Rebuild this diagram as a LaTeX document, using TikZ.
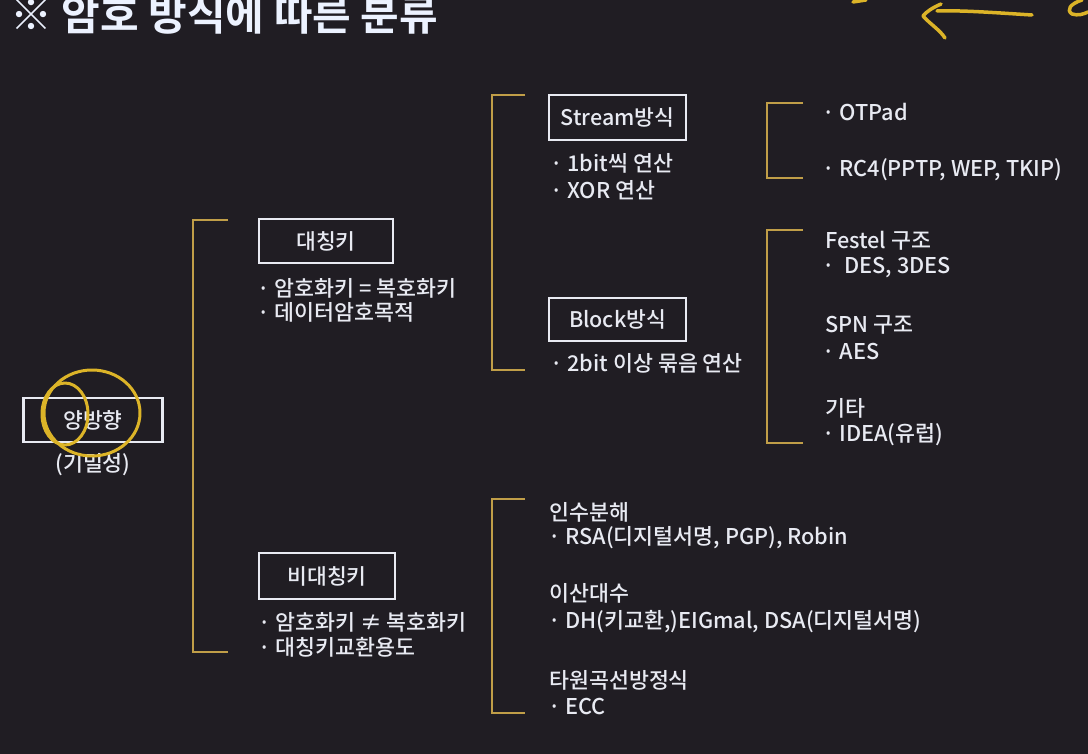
\documentclass[tikz,border=0pt]{standalone}
\usepackage{fontspec}
\setmainfont{Noto Sans CJK KR}[UprightFont={* Medium},BoldFont={* Bold}]
\definecolor{bg}{RGB}{32,29,35}
\definecolor{gold}{RGB}{192,158,72}
\definecolor{fg}{RGB}{232,234,242}
\definecolor{hand}{RGB}{220,180,40}
\definecolor{titlefg}{RGB}{236,242,255}
\tikzset{
  box/.style={draw=fg, line width=2.6pt, text=fg, inner sep=0pt,
    font=\fontsize{21.5}{24}\selectfont},
  txt/.style={anchor=west, inner sep=0pt, text=fg, font=\fontsize{21.7}{24}\selectfont},
  brk/.style={draw=gold, line width=2.6pt},
  ink/.style={draw=hand, line width=3.5pt, line cap=round, line join=round}
}
\begin{document}
\begin{tikzpicture}[x=1pt,y={(0pt,-1pt)}]
\fill[bg] (0,0) rectangle (1088,754);
\useasboundingbox (0,0) rectangle (1088,754);

% title
\node[anchor=base west, inner sep=0pt, text=titlefg, font=\bfseries\fontsize{42}{44}\selectfont] (title) at (10,31) {※ 암호 방식에 따른 분류};

% hand-drawn marks (top right)
\draw[ink] (1032,15) .. controls (1000,13) and (960,10) .. (937,11);
\draw[ink] (941,4) .. controls (932,8) and (926,12) .. (923,16) .. controls (930,24) and (940,30) .. (945,38);
\draw[ink] (1082,0) .. controls (1070,4) and (1066,10) .. (1072,14) .. controls (1078,16) and (1084,14) .. (1088,12);
\draw[ink] (853,2) -- (866,0);

% root
\node[box, minimum width=139pt, minimum height=44pt] (root) at (93,420) {양방향};
\node[txt, anchor=center] (rootsub) at (93,465) {(기밀성)};
\draw[ink, line width=3pt] (92,413) ellipse [x radius=48, y radius=43];
\draw[ink, line width=3pt] (65,414) ellipse [x radius=23, y radius=31];

% level-1 bracket
\draw[brk] (228,220) -| (193,652) -- (228,652);

% symmetric
\node[box, minimum width=134pt, minimum height=44pt] (sym) at (326,241) {대칭키};
\node[txt] (sym1) at (257,288) {· 암호화키 = 복호화키};
\node[txt] (sym2) at (257,312) {· 데이터암호목적};

% asymmetric
\node[box, minimum width=136pt, minimum height=46pt] (asym) at (327,576) {비대칭키};
\node[txt] (asym1) at (258,622) {· 암호화키 ≠ 복호화키};
\node[txt] (asym2) at (258,647) {· 대칭키교환용도};

% level-2 bracket (symmetric)
\draw[brk] (525,95) -| (492,370) -- (525,370);
\node[box, minimum width=137pt, minimum height=45pt] (stream) at (617.5,117.5) {Stream방식};
\node[txt] (st1) at (550,163) {· 1bit씩 연산};
\node[txt] (st2) at (550,190) {· XOR 연산};
\node[box, minimum width=137pt, minimum height=43pt] (block) at (617.5,319.5) {Block방식};
\node[txt] (bl1) at (550,363) {· 2bit 이상 묶음 연산};

% stream bracket
\draw[brk] (803,103) -| (767,178) -- (803,178);
\node[txt] (otp) at (822,112) {· OTPad};
\node[txt] (rc4) at (822,170) {· RC4(PPTP, WEP, TKIP)};

% block bracket
\draw[brk] (803,230) -| (767,443) -- (803,443);
\node[txt] (fes) at (825,241) {Festel 구조};
\node[txt] (des) at (822,268) {·~~DES, 3DES};
\node[txt] (spn) at (825,325) {SPN 구조};
\node[txt] (aes) at (822,352) {· AES};
\node[txt] (etc) at (825,408) {기타};
\node[txt] (idea) at (822,435) {· IDEA(유럽)};

% asymmetric bracket
\draw[brk] (525,499) -| (492,713) -- (525,713);
\node[txt] (fac) at (549,512) {인수분해};
\node[txt] (rsa) at (548,538) {· RSA(디지털서명, PGP), Robin};
\node[txt] (dlog) at (549,593) {이산대수};
\node[txt] (dh) at (548,622) {· DH(키교환,)EIGmal, DSA(디지털서명)};
\node[txt] (ell) at (549,680) {타원곡선방정식};
\node[txt] (ecc) at (548,707) {· ECC};
\end{tikzpicture}
\end{document}
